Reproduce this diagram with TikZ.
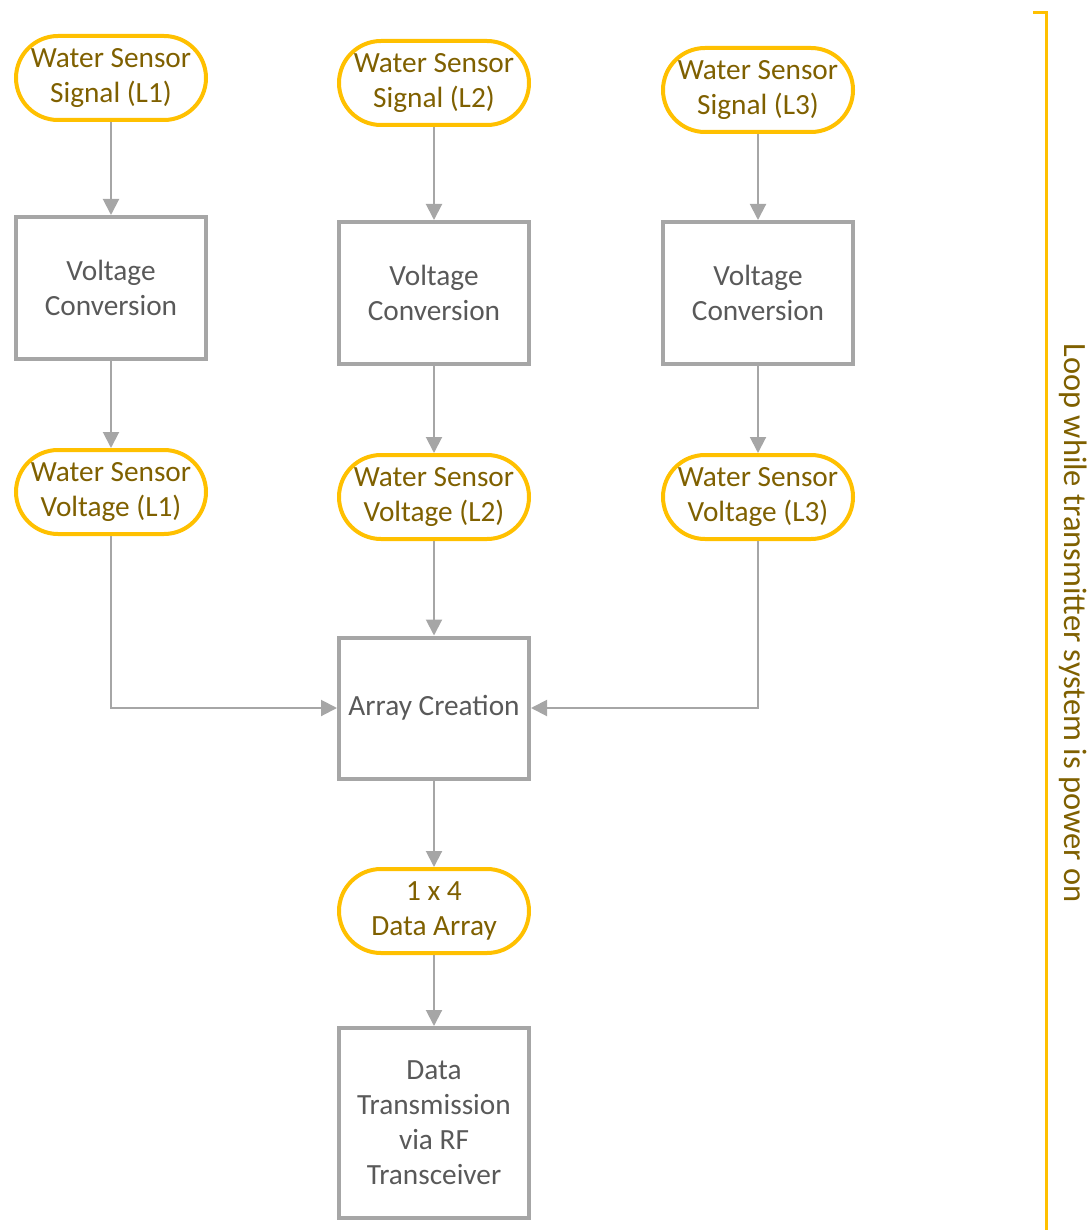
\documentclass[tikz,border=0pt]{standalone}
\usepackage{fontspec}
\setmainfont{Carlito}
\usetikzlibrary{arrows.meta}
\definecolor{gold}{HTML}{FFC000}
\definecolor{golddark}{HTML}{7F6000}
\definecolor{boxgray}{HTML}{A6A6A6}
\definecolor{textgray}{HTML}{595959}
\begin{document}
\begin{tikzpicture}[x=1pt,y=-1pt,
  term/.style={draw=gold, line width=4pt, rounded corners=42pt, minimum width=190pt, minimum height=84pt, align=center, text=golddark, font=\fontsize{29.3}{35}\selectfont, inner sep=0pt},
  proc/.style={draw=boxgray, line width=4pt, minimum width=190pt, align=center, text=textgray, font=\fontsize{29.3}{35}\selectfont, inner sep=0pt},
  arr/.style={draw=boxgray, line width=2pt, -{Triangle[length=16pt,width=16pt]}}]
\useasboundingbox (0,0) rectangle (1088,1230);
% column 1
\node[term] (s1) at (111,78) {Water Sensor\\Signal (L1)};
\node[proc, minimum height=142pt] (c1) at (111,288) {Voltage\\Conversion};
\node[term] (v1) at (111,492) {Water Sensor\\Voltage (L1)};
% column 2
\node[term] (s2) at (434,83) {Water Sensor\\Signal (L2)};
\node[proc, minimum height=142pt] (c2) at (434,293) {Voltage\\Conversion};
\node[term] (v2) at (434,497) {Water Sensor\\Voltage (L2)};
% column 3
\node[term] (s3) at (758,90) {Water Sensor\\Signal (L3)};
\node[proc, minimum height=142pt] (c3) at (758,293) {Voltage\\Conversion};
\node[term] (v3) at (758,497) {Water Sensor\\Voltage (L3)};
% center
\node[proc, minimum height=141pt] (ac) at (434,708) {Array Creation};
\node[term] (da) at (434,911) {1 x 4\\Data Array};
\node[proc, minimum height=190pt] (dt) at (434,1123) {Data\\Transmission\\via RF\\Transceiver};
% arrows
\draw[arr] (s1) -- (c1);
\draw[arr] (c1) -- (v1);
\draw[arr] (s2) -- (c2);
\draw[arr] (c2) -- (v2);
\draw[arr] (s3) -- (c3);
\draw[arr] (c3) -- (v3);
\draw[arr] (v2) -- (ac);
\draw[arr] (v1.south) |- (ac.west);
\draw[arr] (v3.south) |- (ac.east);
\draw[arr] (ac) -- (da);
\draw[arr] (da) -- (dt);
% loop bracket
\coordinate (bt) at (1033,13);
\coordinate (bc) at (1046,13);
\coordinate (bb) at (1046,1232);
\draw[gold, line width=3pt] (bt) -- (bc) -- (bb);
\node[rotate=-90, text=golddark, font=\fontsize{32.5}{38}\selectfont, inner sep=0pt] (lp) at (1073,623) {Loop while transmitter system is power on};
\end{tikzpicture}
\end{document}
